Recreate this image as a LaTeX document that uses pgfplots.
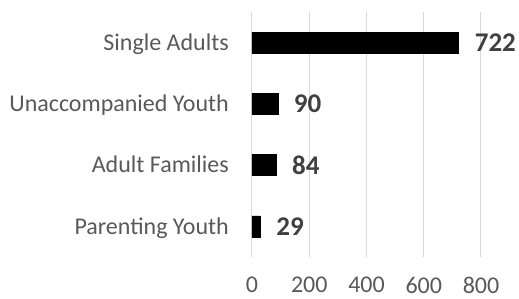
\documentclass[border=0pt]{standalone}
\usepackage{fontspec}
\setmainfont{Carlito}
\usepackage{pgfplots}
\pgfplotsset{compat=1.18}
\definecolor{lbl}{HTML}{595959}
\definecolor{dl}{HTML}{404040}
\definecolor{gridc}{HTML}{D9D9D9}
\begin{document}
\begin{tikzpicture}
\path[use as bounding box] (-252bp,-42bp) rectangle (267bp,257bp);
\begin{axis}[
  at={(0,0)}, anchor=south west,
  scale only axis, width=229bp, height=245bp,
  xbar, bar width=21bp,
  xmin=0, xmax=800, ymin=-0.5, ymax=3.5,
  xtick={0,200,400,600,800},
  ytick={0,1,2,3},
  yticklabels={Parenting Youth, Adult Families, Unaccompanied Youth, Single Adults},
  axis line style={draw=none},
  major tick length=0pt,
  tick style={draw=none},
  xmajorgrids, ymajorgrids=false,
  grid style={draw=gridc, line width=1bp},
  /pgf/number format/assume math mode=true,
  ticklabel style={font=\fontsize{24bp}{28bp}\selectfont, text=lbl, inner sep=0pt},
  xticklabel style={anchor=center, yshift=-28bp},
  yticklabel style={anchor=base east, xshift=-23bp, yshift=-7.7bp},
  nodes near coords,
  nodes near coords style={font=\bfseries\fontsize{27bp}{30bp}\selectfont, text=dl, anchor=west, inner sep=0pt, xshift=16bp},
]
\addplot[fill=black, draw=black] coordinates {(29,0) (84,1) (90,2) (722,3)};
\end{axis}
\end{tikzpicture}
\end{document}
